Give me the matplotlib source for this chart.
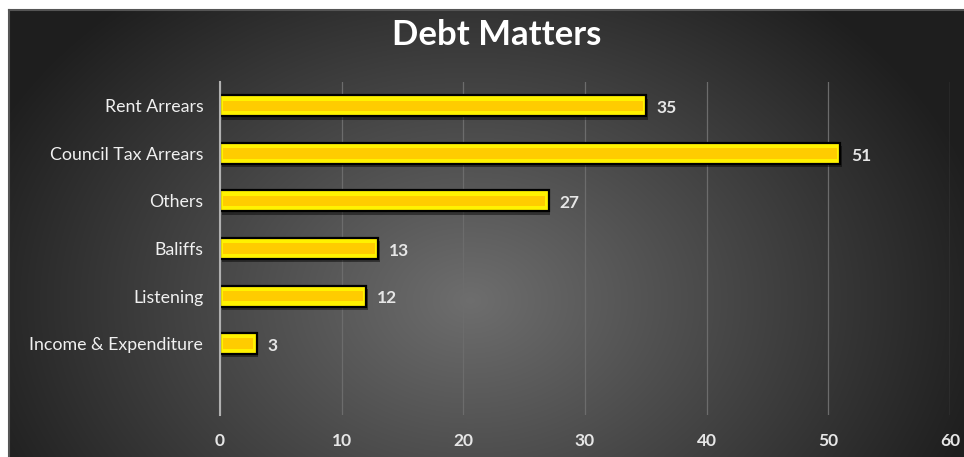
import numpy as np
import matplotlib.pyplot as plt

categories = ["Rent Arrears", "Council Tax Arrears", "Others", "Baliffs",
              "Listening", "Income & Expenditure"]
values = [35, 51, 27, 13, 12, 3]
xticks = [0, 10, 20, 30, 40, 50, 60]

plt.rcParams['font.family'] = ['Lato', 'DejaVu Sans']

fig = plt.figure(figsize=(9.64, 4.57), dpi=100)
fig.patch.set_facecolor('white')

# dark radial gradient panel
bg = fig.add_axes([10 / 964, 0, 954 / 964, 1 - 10 / 457])
yy, xx = np.mgrid[0:447, 0:954]
d = np.sqrt(((xx - 460) / 560.0) ** 2 + ((yy - 290) / 420.0) ** 2)
shade = np.clip(0.43 - 0.33 * d, 0.12, 0.45)
bg.imshow(np.dstack([shade, shade, shade]), aspect='auto', extent=[0, 1, 0, 1])
bg.set_axis_off()
fig.add_artist(plt.Line2D([9 / 964, 9 / 964], [0, 1 - 10 / 457], color='#555555', lw=1.5))
fig.add_artist(plt.Line2D([9 / 964, 1], [1 - 10 / 457, 1 - 10 / 457], color='#555555', lw=1.5))

ax = fig.add_axes([220 / 964, 1 - 415 / 457, 730 / 964, 333 / 457])
ax.patch.set_alpha(0)
pos = np.arange(len(categories))
h = 0.44

# shadow, outer bar, inner bar
ax.barh(pos + 0.07, values, left=0.15, height=h, color='black', alpha=0.45, zorder=2)
ax.barh(pos, values, height=h, color='#FFF200', edgecolor='black', linewidth=1.6, zorder=3)
ax.barh(pos, [v - 0.5 for v in values], left=0.25, height=h * 0.5, color='#FFCC00', zorder=4)

for p, v in zip(pos, values):
    ax.text(v + 0.9, p + 0.05, str(v), va='center', ha='left', color='#e6e6e6',
            fontsize=12.5, fontweight='bold', zorder=5)

ax.set_xlim(0, 60)
ax.set_ylim(6.5, -0.5)
ax.set_xticks(xticks)
ax.set_xticklabels([str(t) for t in xticks], color='#e6e6e6', fontsize=12.5, fontweight='bold')
ax.set_yticks(pos)
ax.set_yticklabels(categories, color='#f0f0f0', fontsize=12.8)
ax.tick_params(axis='both', length=0)
ax.tick_params(axis='x', pad=13)
ax.tick_params(axis='y', pad=12)
ax.grid(axis='x', color='#6c6c6c', lw=0.9, zorder=1)
for s in ['top', 'right', 'bottom']:
    ax.spines[s].set_visible(False)
ax.spines['left'].set_color('#b0b0b0')
ax.spines['left'].set_linewidth(1.5)
ax.spines['left'].set_zorder(6)

fig.text(497 / 964, 1 - 35 / 457, "Debt Matters", ha='center', va='center',
         color='white', fontsize=25, fontweight='bold')

fig.savefig('out.png', dpi=100)
